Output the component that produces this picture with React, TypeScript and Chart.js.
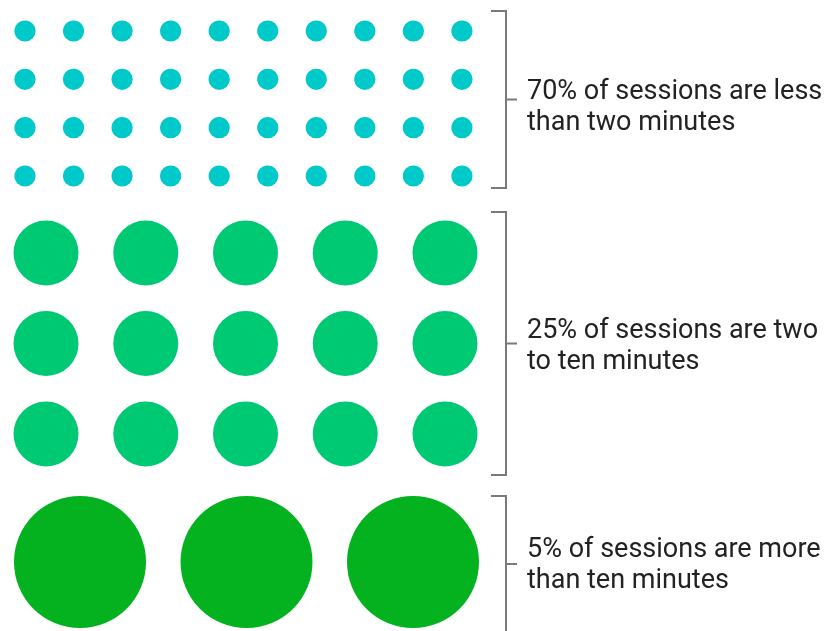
import React, { useEffect, useRef } from "react";
import { Chart, registerables } from "chart.js";

Chart.register(...registerables);

// ---- data ----
const groupKeys = ["under2", "twoToTen", "over10"];
const sessionShares = [70, 25, 5];
const dotColumns = [10, 5, 3];
const dotRows = [4, 3, 1];
const labelLines = [
  ["70% of sessions are less", "than two minutes"],
  ["25% of sessions are two", "to ten minutes"],
  ["5% of sessions are more", "than ten minutes"],
];
const dotColors = ["#00C9C9", "#00C974", "#03B21E"];

// ---- layout (pixels) ----
const W = 829;
const H = 631;
const groupLayout = [
  { x0: 25, dx: 48.55, y0: 31, dy: 48.33, r: 10.6, bTop: 11, bBottom: 188, textY: 99 },
  { x0: 46, dx: 99.75, y0: 253, dy: 90.5, r: 32.5, bTop: 212, bBottom: 475, textY: 338 },
  { x0: 80, dx: 166.5, y0: 562, dy: 100, r: 66, bTop: 496, bBottom: 632, textY: 557 },
];
const bracketX = 506;
const textX = 527;
const lineGap = 31;

function gridPoints(cols: number, rows: number) {
  const pts: { x: number; y: number }[] = [];
  for (let r = 0; r < rows; r++) {
    for (let c = 0; c < cols; c++) pts.push({ x: c, y: r });
  }
  return pts;
}

const bracketPlugin = {
  id: "brackets",
  afterDatasetsDraw(chart: any) {
    const ctx = chart.ctx as CanvasRenderingContext2D;
    ctx.save();
    groupKeys.forEach((_, i) => {
      const g = groupLayout[i];
      const mid = (g.bTop + g.bBottom) / 2;
      ctx.strokeStyle = "#7a7a7a";
      ctx.lineWidth = 2;
      ctx.beginPath();
      ctx.moveTo(bracketX - 15, g.bTop);
      ctx.lineTo(bracketX, g.bTop);
      ctx.lineTo(bracketX, g.bBottom);
      ctx.lineTo(bracketX - 15, g.bBottom);
      ctx.moveTo(bracketX, mid);
      ctx.lineTo(bracketX + 11, mid);
      ctx.stroke();
      ctx.fillStyle = "#222222";
      ctx.font = "27px Roboto";
      ctx.textAlign = "left";
      ctx.textBaseline = "alphabetic";
      labelLines[i].forEach((line, k) => {
        ctx.fillText(line, textX, g.textY + k * lineGap);
      });
    });
    ctx.restore();
  },
};

export default function App() {
  const ref = useRef<HTMLCanvasElement | null>(null);
  useEffect(() => {
    if (!ref.current) return;
    const scales: any = {
      x: { type: "linear", display: false },
      y: { type: "linear", display: false },
    };
    groupKeys.forEach((_, i) => {
      const g = groupLayout[i];
      scales[`x${i}`] = {
        type: "linear",
        display: false,
        bounds: "data",
        min: -g.x0 / g.dx,
        max: (W - g.x0) / g.dx,
      };
      scales[`y${i}`] = {
        type: "linear",
        display: false,
        bounds: "data",
        reverse: true,
        min: -g.y0 / g.dy,
        max: (H - g.y0) / g.dy,
      };
    });
    const chart = new Chart(ref.current, {
      type: "scatter",
      data: {
        datasets: groupKeys.map((key, i) => ({
          label: `${sessionShares[i]}% ${key}`,
          data: gridPoints(dotColumns[i], dotRows[i]),
          xAxisID: `x${i}`,
          yAxisID: `y${i}`,
          backgroundColor: dotColors[i],
          borderWidth: 0,
          pointRadius: groupLayout[i].r,
          pointHoverRadius: groupLayout[i].r,
          pointBorderWidth: 0,
          clip: false as any,
        })),
      },
      options: {
        animation: false,
        responsive: true,
        maintainAspectRatio: false,
        layout: { padding: 0, autoPadding: false },
        events: [],
        plugins: {
          legend: { display: false },
          tooltip: { enabled: false },
        },
        scales,
      },
      plugins: [bracketPlugin],
    });
    return () => chart.destroy();
  }, []);
  return (
    <div
      style={{
        position: "fixed",
        left: 0,
        top: 0,
        width: W,
        height: H,
        background: "#ffffff",
      }}
    >
      <canvas ref={ref} />
    </div>
  );
}
